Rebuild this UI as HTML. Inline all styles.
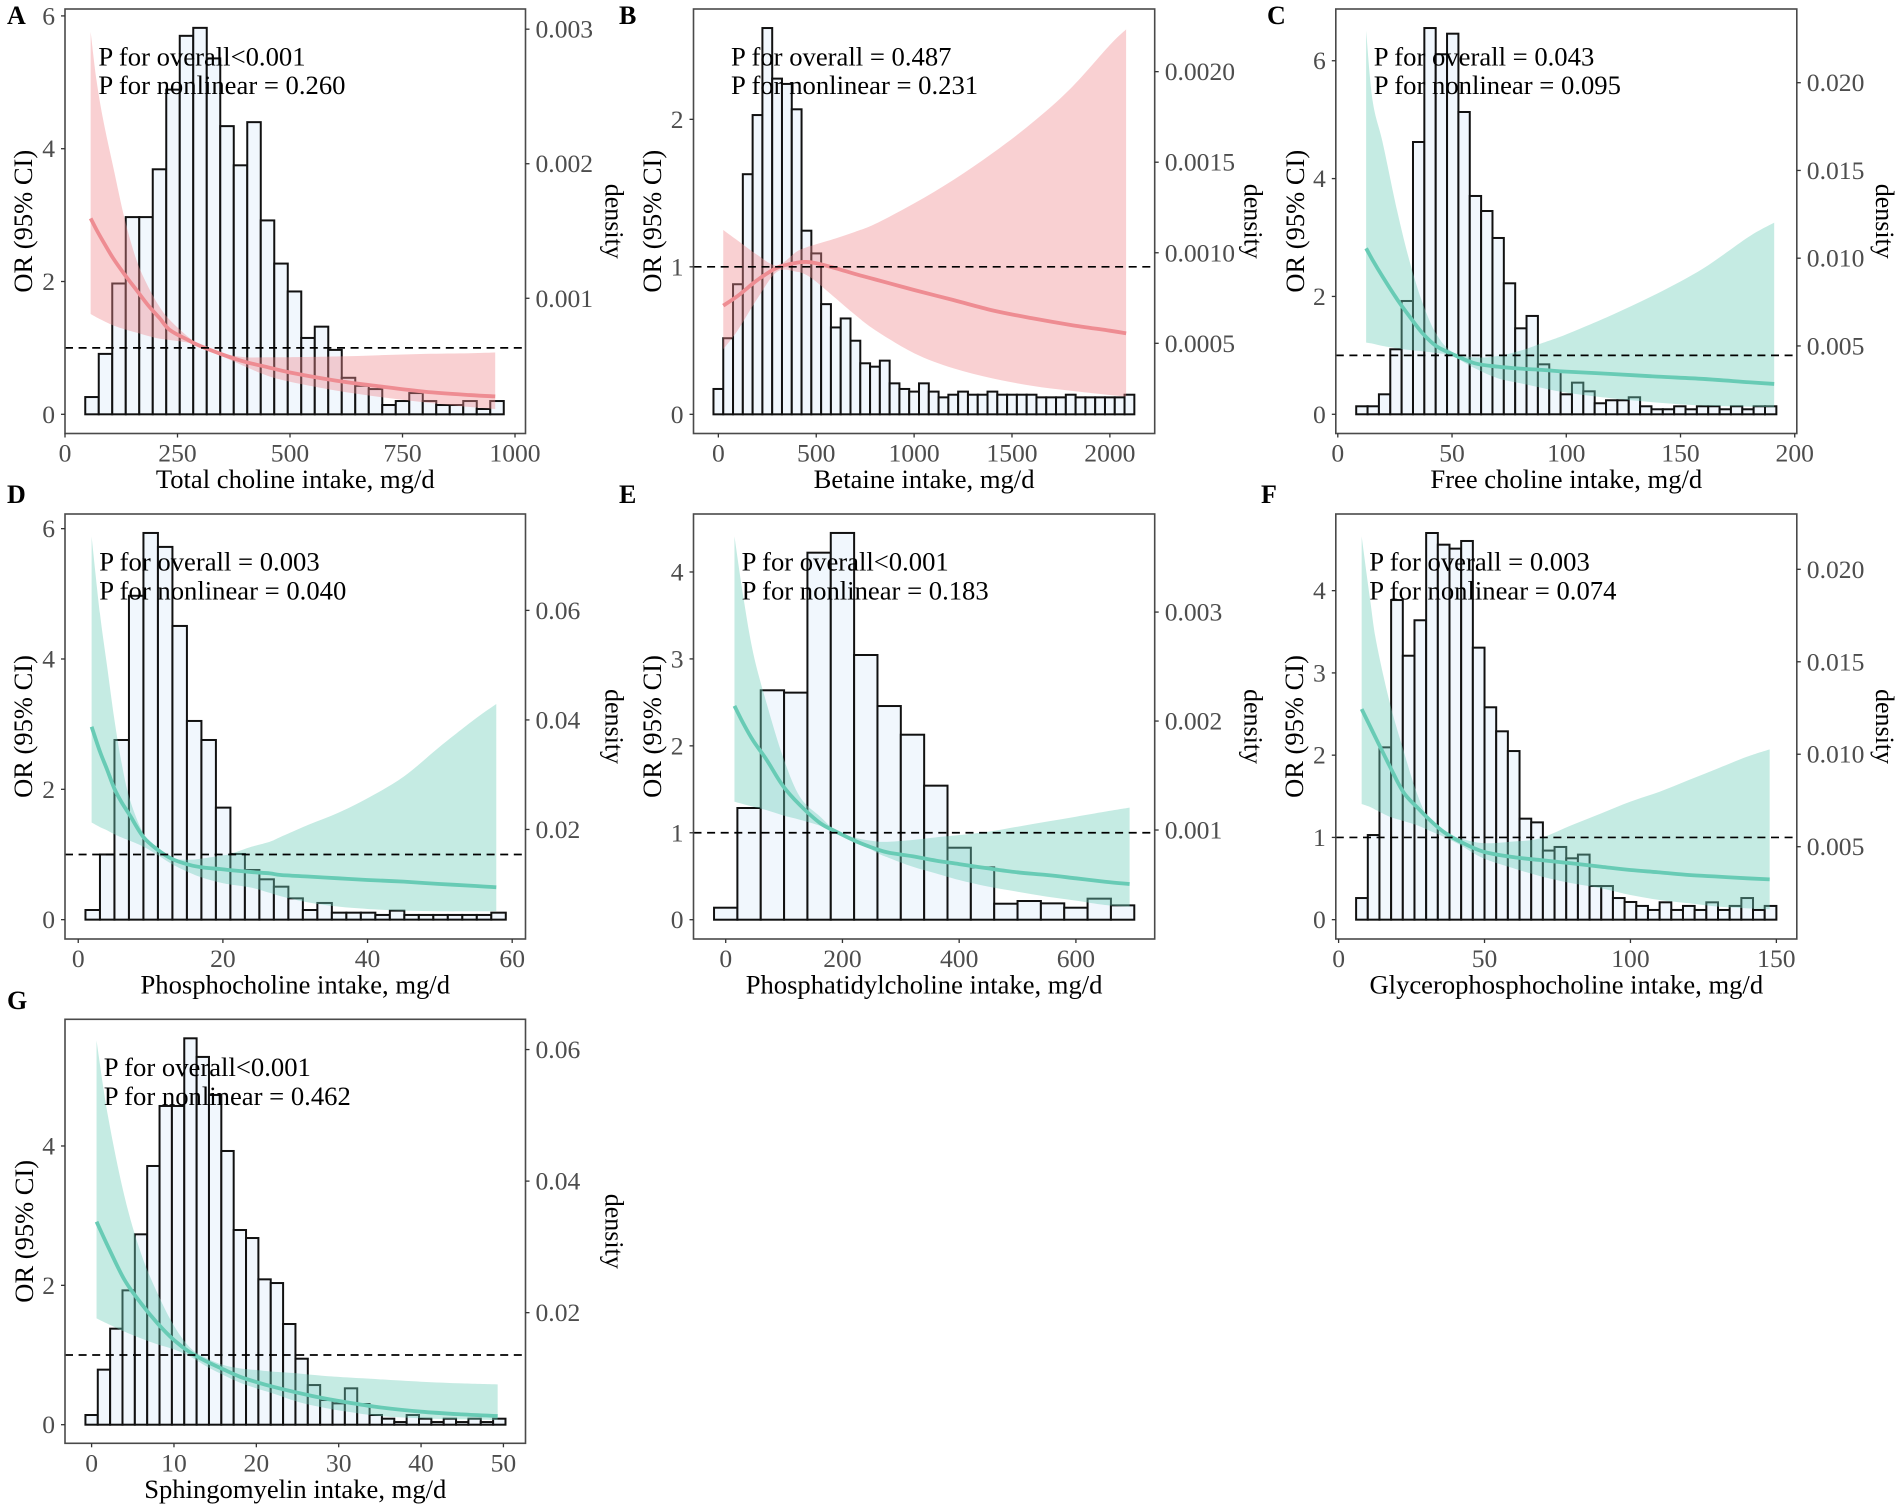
<!DOCTYPE html>
<html lang="en">
<head>
<meta charset="utf-8">
<title>Restricted cubic spline panels for choline intake</title>
<style>
html,body{margin:0;padding:0;background:#fff;}
svg{display:block;font-family:"Liberation Serif",serif;}
</style>
</head>
<body>
<svg id="figure" xmlns="http://www.w3.org/2000/svg" width="1902" height="1511" viewBox="0 0 1902 1511"></svg>
<script>
// Panel A: Total choline
const barsA=[.26,.91,1.97,2.97,2.97,3.69,4.89,5.70,5.82,5.36,4.34,3.75,4.40,2.92,2.27,1.85,1.15,1.32,.97,.55,.43,.38,.14,.20,.32,.20,.14,.14,.20,.08,.20];
const gridA=[57,70,85,107,133,159,185,210,233,273,300,350,400,450,500,600,700,800,900,956];
const midA=[2.95,2.78,2.60,2.35,2.10,1.87,1.64,1.45,1.27,1.12,1.03,.90,.79,.71,.63,.51,.42,.34,.29,.27];
const highA=[5.76,5.03,4.43,3.73,2.93,2.32,1.92,1.62,1.42,1.17,1.05,.92,.86,.86,.86,.87,.89,.91,.92,.93];
const lowA=[1.51,1.46,1.41,1.34,1.28,1.23,1.18,1.14,1.12,1.08,1.02,.87,.72,.58,.49,.36,.26,.18,.11,.08];
const xTicksA=[0,250,500,750,1000];
const yTicksA=[0,2,4,6];
const densityTicksA=["0.001","0.002","0.003"];
// Panel B: Betaine
const barsB=[.172,.516,.882,1.628,2.029,2.619,2.276,2.240,2.068,1.245,1.091,.747,.589,.650,.499,.346,.323,.364,.210,.172,.154,.210,.154,.115,.133,.154,.133,.133,.154,.133,.133,.133,.133,.115,.115,.115,.133,.115,.115,.115,.115,.115,.133];
const gridB=[25,100,200,300,400,450,500,600,700,800,1000,1200,1400,1600,1800,2000,2083];
const midB=[.737,.804,.911,.994,1.028,1.033,1.024,.990,.951,.915,.843,.775,.705,.652,.606,.567,.549];
const highB=[1.25,1.177,1.08,1.01,1.103,1.132,1.153,1.193,1.238,1.29,1.43,1.589,1.77,1.973,2.21,2.504,2.61];
const lowB=[.441,.572,.786,.967,.967,.945,.899,.786,.673,.572,.414,.312,.244,.194,.16,.131,.12];
const xTicksB=[0,500,1000,1500,2000];
const yTicksB=[0,1,2];
const densityTicksB=["0.0005","0.0010","0.0015","0.0020"];
// Panel C: Free choline
const barsC=[.136,.136,.339,1.103,1.923,4.621,6.555,6.11,6.459,5.130,3.705,3.450,2.992,2.223,1.459,1.669,.848,.741,.339,.537,.390,.187,.238,.238,.289,.136,.085,.085,.136,.085,.136,.136,.085,.136,.085,.136,.136];
const gridC=[12.4,15.2,19.7,26,31.4,37,43,50,60,70,80,90,100,120,140,160,180,191];
const midC=[2.817,2.62,2.33,1.95,1.66,1.38,1.16,1.024,.865,.809,.775,.752,.724,.684,.639,.600,.543,.515];
const highC=[6.51,5.33,4.6,3.45,2.6,1.9,1.37,1.06,.967,.99,1.08,1.216,1.357,1.686,2.053,2.477,3.015,3.252];
const lowC=[1.216,1.20,1.16,1.12,1.09,1.07,1.04,.99,.781,.611,.526,.441,.368,.271,.198,.147,.13,.119];
const xTicksC=[0,50,100,150,200];
const yTicksC=[0,2,4,6];
const densityTicksC=["0.005","0.010","0.015","0.020"];
// Panel D: Phosphocholine
const barsD=[.148,1.0,2.757,4.97,5.934,5.72,4.507,3.049,2.757,1.719,1.008,.762,.619,.506,.327,.148,.256,.107,.107,.107,.072,.138,.072,.072,.072,.072,.072,.072,.107];
const gridD=[1.85,3,4,5,6,7.15,9,11,13,15.4,17.3,19.6,21,24,26.5,28,32,36,40,45,50,55,57.8];
const midD=[2.96,2.58,2.30,2.01,1.80,1.60,1.27,1.07,.93,.84,.80,.777,.76,.73,.71,.685,.66,.634,.609,.583,.547,.517,.496];
const highD=[5.88,4.70,3.88,3.07,2.40,1.84,1.325,1.07,.94,.92,.94,.98,1.007,1.12,1.196,1.27,1.463,1.642,1.862,2.194,2.655,3.09,3.309];
const lowD=[1.49,1.42,1.37,1.31,1.26,1.21,1.12,.99,.85,.72,.64,.57,.54,.49,.41,.36,.261,.199,.164,.138,.128,.128,.128];
const xTicksD=[0,20,40,60];
const yTicksD=[0,2,4,6];
const densityTicksD=["0.02","0.04","0.06"];
// Panel E: Phosphatidylcholine
const barsE=[.138,1.285,2.639,2.612,4.222,4.449,3.045,2.458,2.128,1.542,.828,.602,.184,.215,.188,.138,.242,.165];
const gridE=[15,30,47,70,98,127,162,190,224,259,280,320,360,400,450,500,550,600,650,692];
const midE=[2.46,2.26,2.06,1.84,1.54,1.32,1.11,1.01,.90,.81,.77,.73,.68,.64,.59,.545,.514,.476,.437,.41];
const highE=[4.41,3.72,3.07,2.49,1.875,1.415,1.185,1.02,.94,.90,.897,.917,.947,.974,1.012,1.07,1.128,1.185,1.243,1.289];
const lowE=[1.357,1.33,1.30,1.26,1.20,1.15,1.08,1.00,.91,.77,.71,.61,.533,.456,.38,.322,.265,.219,.169,.15];
const xTicksE=[0,200,400,600];
const yTicksE=[0,1,2,3,4];
const densityTicksE=["0.001","0.002","0.003"];
// Panel F: Glycerophosphocholine
const barsF=[.263,1.029,2.095,3.886,3.209,3.64,4.701,4.559,4.511,4.604,3.307,2.582,2.29,2.05,1.228,1.183,.84,.884,.746,.791,.409,.409,.263,.215,.167,.118,.211,.118,.167,.118,.211,.118,.167,.263,.118,.167];
const gridF=[7.9,10.8,13,17.6,22.2,26.8,31.3,35.9,41.6,49.6,59.9,69,80,90,100,110,120,130,140,147.7];
const midF=[2.56,2.35,2.19,1.86,1.55,1.37,1.21,1.07,.95,.826,.76,.725,.685,.644,.604,.575,.543,.523,.503,.49];
const highF=[4.66,3.89,3.36,2.63,2.06,1.54,1.19,1.07,.99,.93,.95,.99,1.151,1.293,1.435,1.556,1.698,1.84,1.982,2.071];
const lowF=[1.406,1.37,1.33,1.25,1.20,1.15,1.08,1.01,.91,.746,.625,.53,.442,.381,.3,.239,.199,.158,.138,.126];
const xTicksF=[0,50,100,150];
const yTicksF=[0,1,2,3,4];
const densityTicksF=["0.005","0.010","0.015","0.020"];
// Panel G: Sphingomyelin
const barsG=[.139,.79,1.378,1.928,2.732,3.713,4.574,4.574,5.545,5.278,4.732,3.928,2.794,2.679,2.086,2.033,1.445,.947,.569,.354,.306,.522,.297,.139,.086,.038,.139,.086,.038,.086,.038,.086,.038,.086];
const gridG=[.6,2,4,6,8,10,12,14,16,18,20,22,25,28,31,35,40,45,49.3];
const midG=[2.914,2.555,2.077,1.742,1.455,1.215,1.033,.904,.794,.689,.612,.545,.459,.383,.321,.249,.187,.148,.124];
const highG=[5.512,4.421,3.273,2.459,1.885,1.42,1.10,.952,.856,.809,.785,.761,.737,.703,.679,.651,.617,.593,.579];
const lowG=[1.526,1.445,1.335,1.239,1.153,1.081,.976,.833,.713,.603,.522,.45,.33,.249,.187,.124,.091,.077,.067];
const xTicksG=[0,10,20,30,40,50];
const yTicksG=[0,2,4];
const densityTicksG=["0.02","0.04","0.06"];

const RED={line:"rgb(238,140,146)",band:"rgb(240,137,142)"};
const TEAL={line:"rgb(104,203,181)",band:"rgb(110,205,185)"};

const panels=[
{id:"a",letter:"A",lx:7,ly:24,box:[65,525.5,9,433.5],xd:[0,1023.3],yd:[-.289,6.104],dd:[-.000005,.00315],bins:[45,30],bars:barsA,grid:gridA,mid:midA,high:highA,low:lowA,xt:xTicksA,yt:yTicksA,dt:densityTicksA,col:RED,xTitle:"Total choline intake, mg/d",p1:"P for overall<0.001",p2:"P for nonlinear = 0.260",px:98.4,pys:[65.5,94],orX:32,denX:605.5},
{id:"b",letter:"B",lx:619,ly:24,box:[693.5,1154.7,9,433.5],xd:[-127,2229],yd:[-.13,2.748],dd:[.000002,.002346],bins:[-25,50],bars:barsB,grid:gridB,mid:midB,high:highB,low:lowB,xt:xTicksB,yt:yTicksB,dt:densityTicksB,col:RED,xTitle:"Betaine intake, mg/d",p1:"P for overall = 0.487",p2:"P for nonlinear = 0.231",px:731,pys:[65.5,94],orX:661,denX:1244.5},
{id:"c",letter:"C",lx:1267,ly:24,box:[1335.8,1796.8,9,433.5],xd:[-.875,200.9],yd:[-.326,6.878],dd:[.00001,.0242],bins:[8.06,4.97],bars:barsC,grid:gridC,mid:midC,high:highC,low:lowC,xt:xTicksC,yt:yTicksC,dt:densityTicksC,col:TEAL,xTitle:"Free choline intake, mg/d",p1:"P for overall = 0.043",p2:"P for nonlinear = 0.095",px:1373.8,pys:[65.5,94],orX:1304,denX:1876},
{id:"d",letter:"D",lx:7,ly:503,box:[65,525.5,514,939],xd:[-1.83,61.84],yd:[-.297,6.225],dd:[0,.0776],bins:[1,2.004],bars:barsD,grid:gridD,mid:midD,high:highD,low:lowD,xt:xTicksD,yt:yTicksD,dt:densityTicksD,col:TEAL,xTitle:"Phosphocholine intake, mg/d",p1:"P for overall = 0.003",p2:"P for nonlinear = 0.040",px:99.2,pys:[570.3,599.3],orX:32,denX:605.5},
{id:"e",letter:"E",lx:619,ly:503,box:[693.5,1154.7,514,939],xd:[-55.2,735],yd:[-.222,4.667],dd:[0,.0039],bins:[-20,40],bars:barsE,grid:gridE,mid:midE,high:highE,low:lowE,xt:xTicksE,yt:yTicksE,dt:densityTicksE,col:TEAL,xTitle:"Phosphatidylcholine intake, mg/d",p1:"P for overall<0.001",p2:"P for nonlinear = 0.183",px:741.6,pys:[570.3,599.3],orX:661,denX:1244.5},
{id:"f",letter:"F",lx:1261,ly:503,box:[1335.8,1796.8,514,939],xd:[-.96,157],yd:[-.235,4.932],dd:[.00001,.02299],bins:[6,4],bars:barsF,grid:gridF,mid:midF,high:highF,low:lowF,xt:xTicksF,yt:yTicksF,dt:densityTicksF,col:TEAL,xTitle:"Glycerophosphocholine intake, mg/d",p1:"P for overall = 0.003",p2:"P for nonlinear = 0.074",px:1369.3,pys:[570.3,599.3],orX:1303,denX:1876},
{id:"g",letter:"G",lx:7,ly:1009,box:[65,525.5,1019.3,1443.3],xd:[-3.23,52.68],yd:[-.267,5.818],dd:[.00014,.0646],bins:[-.75,1.5],bars:barsG,grid:gridG,mid:midG,high:highG,low:lowG,xt:xTicksG,yt:yTicksG,dt:densityTicksG,col:TEAL,xTitle:"Sphingomyelin intake, mg/d",p1:"P for overall<0.001",p2:"P for nonlinear = 0.462",px:103.7,pys:[1076,1105],orX:33,denX:605.5}
];

const NS="http://www.w3.org/2000/svg";
const root=document.getElementById("figure");
function el(parent,tag,attrs,txt){
  const e=document.createElementNS(NS,tag);
  for(const k in attrs){e.setAttribute(k,attrs[k]);}
  if(txt!==undefined){e.textContent=txt;}
  parent.appendChild(e);
  return e;
}
function linear(d,r){
  return function(v){return r[0]+(v-d[0])*(r[1]-r[0])/(d[1]-d[0]);};
}
function spline(pts,move){
  let s=(move?"M":"L")+pts[0][0].toFixed(2)+" "+pts[0][1].toFixed(2);
  for(let i=0;i<pts.length-1;i++){
    const p0=pts[Math.max(i-1,0)],p1=pts[i],p2=pts[i+1],p3=pts[Math.min(i+2,pts.length-1)];
    const c1x=p1[0]+(p2[0]-p0[0])/6,c1y=p1[1]+(p2[1]-p0[1])/6;
    const c2x=p2[0]-(p3[0]-p1[0])/6,c2y=p2[1]-(p3[1]-p1[1])/6;
    s+="C"+c1x.toFixed(2)+" "+c1y.toFixed(2)+" "+c2x.toFixed(2)+" "+c2y.toFixed(2)+" "+p2[0].toFixed(2)+" "+p2[1].toFixed(2);
  }
  return s;
}
panels.forEach(function(p){
  const L=p.box[0],R=p.box[1],T=p.box[2],B=p.box[3];
  const x=linear(p.xd,[L,R]);
  const y=linear(p.yd,[B,T]);
  const yd=linear(p.dd,[B,T]);
  const g=el(root,"g",{});
  
  

  const letter=el(g,"text",{x:p.lx,y:p.ly,"font-size":26,"font-weight":"bold",fill:"#000"},p.letter);
  
  

  // histogram bars
  const hist=el(g,"g",{fill:"#f1f7fd",stroke:"#111","stroke-width":2});
  
  
  p.bars.forEach(function(v,i){
    const x0=x(p.bins[0]+i*p.bins[1]),x1=x(p.bins[0]+(i+1)*p.bins[1]);
    const r=el(hist,"rect",{x:x0.toFixed(2),y:y(v).toFixed(2),width:(x1-x0).toFixed(2),height:(y(0)-y(v)).toFixed(2)});
    
    
  });

  // confidence band
  const up=p.grid.map(function(v,i){return [x(v),y(p.high[i])];});
  const dn=p.grid.map(function(v,i){return [x(v),y(p.low[i])];}).reverse();
  const band=el(g,"path",{d:spline(up,true)+spline(dn,false)+"Z",fill:p.col.band,"fill-opacity":.4,stroke:"none"});
  
  

  // OR curve
  const midPts=p.grid.map(function(v,i){return [x(v),y(p.mid[i])];});
  const curve=el(g,"path",{d:spline(midPts,true),fill:"none",stroke:p.col.line,"stroke-width":3.8});
  
  

  // reference line at OR = 1
  const ref=el(g,"line",{x1:L,x2:R,y1:y(1).toFixed(2),y2:y(1).toFixed(2),stroke:"#000","stroke-width":1.7,"stroke-dasharray":"8 5.6"});
  
  

  // panel border
  const frame=el(g,"rect",{x:L,y:T,width:R-L,height:B-T,fill:"none",stroke:"#4a4a4a","stroke-width":1.6});
  
  

  // x axis
  p.xt.forEach(function(v){
    const t=el(g,"line",{x1:x(v),x2:x(v),y1:B,y2:B+4,stroke:"#333","stroke-width":1.3});
    
    
    const l=el(g,"text",{x:x(v),y:B+28,"font-size":25.6,fill:"#4d4d4d","text-anchor":"middle"},String(v));
    
    
  });
  // left y axis
  p.yt.forEach(function(v){
    const t=el(g,"line",{x1:L-4,x2:L,y1:y(v),y2:y(v),stroke:"#333","stroke-width":1.3});
    
    
    const l=el(g,"text",{x:L-10,y:y(v)+8.5,"font-size":25.6,fill:"#4d4d4d","text-anchor":"end"},String(v));
    
    
  });
  // right density axis
  p.dt.forEach(function(s){
    const v=Number(s);
    const t=el(g,"line",{x1:R,x2:R+4,y1:yd(v),y2:yd(v),stroke:"#333","stroke-width":1.3});
    
    
    const l=el(g,"text",{x:R+10,y:yd(v)+8.5,"font-size":25.6,fill:"#4d4d4d"},s);
    
    
  });

  // titles
  const cx=(L+R)/2,cy=(T+B)/2;
  const xt=el(g,"text",{x:cx,y:B+54.5,"font-size":26.6,fill:"#000","text-anchor":"middle"},p.xTitle);
  
  
  const yt=el(g,"text",{x:0,y:0,"font-size":26.5,fill:"#000","text-anchor":"middle",transform:"translate("+p.orX+" "+cy+") rotate(-90)"},"OR (95% CI)");
  
  
  const dt=el(g,"text",{x:0,y:0,"font-size":26,fill:"#000","text-anchor":"middle",transform:"translate("+p.denX+" "+cy+") rotate(90)"},"density");
  
  

  // p-value annotations
  const a1=el(g,"text",{x:p.px,y:p.pys[0],"font-size":26.65,fill:"#000"},p.p1);
  
  
  const a2=el(g,"text",{x:p.px,y:p.pys[1],"font-size":26.65,fill:"#000"},p.p2);
  
  
});
</script>
</body>
</html>
